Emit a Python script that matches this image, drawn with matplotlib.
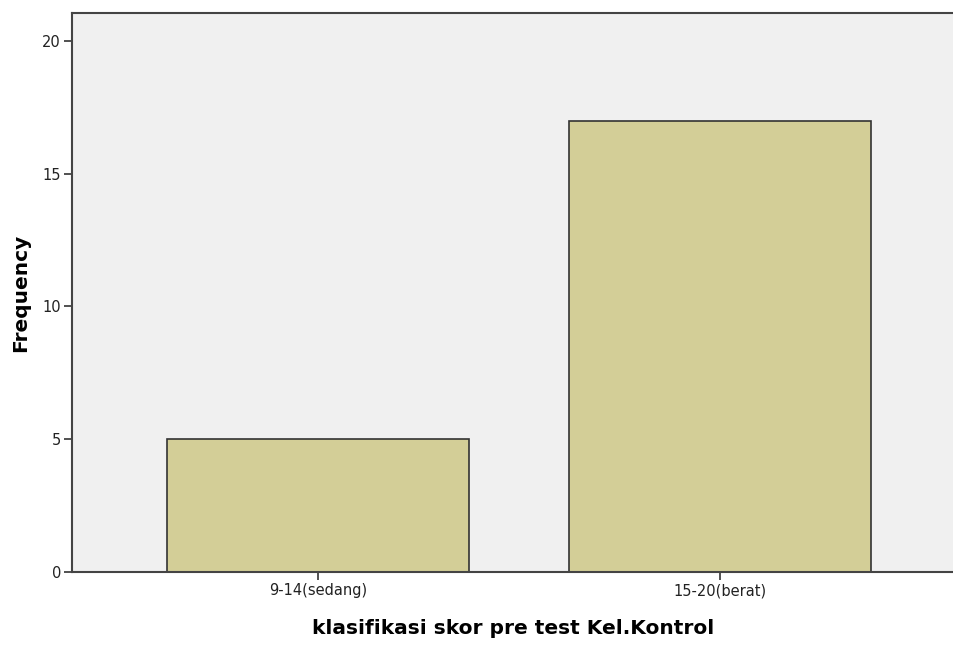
import matplotlib
matplotlib.use("Agg")
import matplotlib.pyplot as plt

# data
categories = ["9-14(sedang)", "15-20(berat)"]
frequency = [5, 17]
y_ticks = [0, 5, 10, 15, 20]

plt.rcParams['font.family'] = ['DejaVu Sans']

fig = plt.figure(figsize=(9.54, 6.45), dpi=100)
ax = fig.add_axes([72 / 954, 1 - 572 / 645, (954 - 72) / 954, (572 - 13) / 645])
ax.set_facecolor('#F0F0F0')

x = range(len(categories))
ax.bar(x, frequency, width=0.75, color='#D3CE97', edgecolor='#333333', linewidth=1.2, zorder=2)

ax.set_xlim(-0.612, 1.582)
ax.set_ylim(0, 21.05)
ax.set_xticks(list(x))
ax.set_xticklabels(categories, fontsize=10.5, color='#222222')
ax.set_yticks(y_ticks)
ax.set_yticklabels([str(t) for t in y_ticks], fontsize=10.5, color='#222222')
ax.tick_params(axis='both', direction='out', length=6, width=1.2, color='#333333', pad=2)

for side in ['top', 'left', 'bottom']:
    ax.spines[side].set_color('#444444')
    ax.spines[side].set_linewidth(1.5)
ax.spines['right'].set_visible(False)

ax.set_xlabel("klasifikasi skor pre test Kel.Kontrol", fontsize=14.5, fontweight='bold', labelpad=15)
ax.set_ylabel("Frequency", fontsize=14.5, fontweight='bold', labelpad=9)

fig.savefig("out.png", dpi=100)
